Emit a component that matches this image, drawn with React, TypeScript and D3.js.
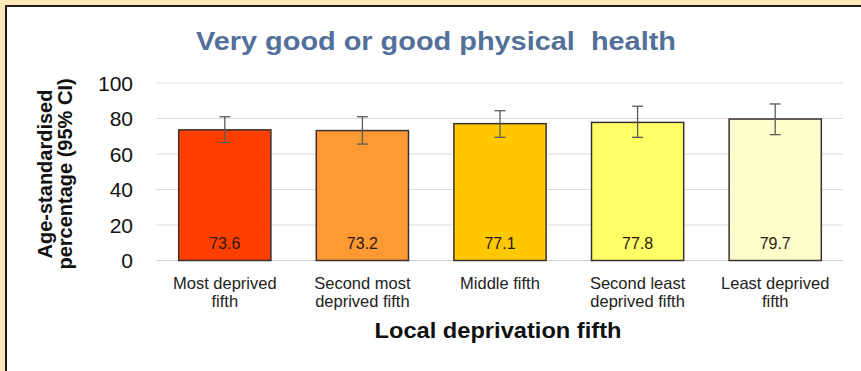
import React from "react";
import * as d3 from "d3";

const categories = [
  ["Most deprived", "fifth"],
  ["Second most", "deprived fifth"],
  ["Middle fifth"],
  ["Second least", "deprived fifth"],
  ["Least deprived", "fifth"],
];
const values = [73.6, 73.2, 77.1, 77.8, 79.7];
const lower = [66.4, 65.6, 69.4, 69.4, 70.9];
const upper = [81.0, 81.0, 84.4, 86.9, 88.2];
const colors = ["#ff3f00", "#ff9933", "#ffc800", "#ffff66", "#ffffcc"];
const yTicks = [0, 20, 40, 60, 80, 100];

const W = 861;
const H = 371;

export default function App() {
  const keys = categories.map((_, i) => String(i));
  const x = d3.scaleBand<string>().domain(keys).range([156, 844]).paddingInner(0.33).paddingOuter(0.165);
  const y = d3.scaleLinear().domain([0, 100]).range([260.5, 83]);
  const font = "'Liberation Sans', Arial, sans-serif";
  return (
    <svg width={W} height={H} style={{ position: "absolute", left: 0, top: 0 }} fontFamily={font}>
      <rect x={0} y={0} width={W} height={H} fill="#fde8b8" />
      <rect x={6} y={6} width={W + 10} height={H + 10} fill="#ffffff" stroke="#1e1e1e" strokeWidth={2} />
      <text x={436} y={50} textAnchor="middle" fontSize={26} fontWeight="bold" fill="#53709a" textLength={480} lengthAdjust="spacingAndGlyphs" style={{ whiteSpace: "pre" }}>
        {"Very good or good physical  health"}
      </text>
      {yTicks.map((t) => (
        <g key={t}>
          <line x1={156} x2={843} y1={y(t)} y2={y(t)} stroke={t === 0 ? "#cfcfcf" : "#dcdcdc"} strokeWidth={1.2} />
          <text x={133} y={y(t)} dy="0.36em" textAnchor="end" fontSize={21} fill="#111">
            {t}
          </text>
        </g>
      ))}
      {values.map((v, i) => {
        const bx = x(String(i))!;
        const bw = x.bandwidth();
        const cx = bx + bw / 2;
        return (
          <g key={i}>
            <rect x={bx} y={y(v)} width={bw} height={y(0) - y(v)} fill={colors[i]} stroke="#3a3030" strokeWidth={1.5} />
            <line x1={cx} x2={cx} y1={y(upper[i])} y2={y(lower[i])} stroke="#5a5a5a" strokeWidth={1.3} />
            <line x1={cx - 5.5} x2={cx + 5.5} y1={y(upper[i])} y2={y(upper[i])} stroke="#5a5a5a" strokeWidth={1.3} />
            <line x1={cx - 5.5} x2={cx + 5.5} y1={y(lower[i])} y2={y(lower[i])} stroke="#5a5a5a" strokeWidth={1.3} />
            <text x={cx} y={249} textAnchor="middle" fontSize={16} fill="#2a1a12">
              {v.toFixed(1)}
            </text>
            {categories[i].map((line, j) => (
              <text key={j} x={cx} y={289 + j * 18} textAnchor="middle" fontSize={16.5} fill="#222">
                {line}
              </text>
            ))}
          </g>
        );
      })}
      <text x={498} y={338} textAnchor="middle" fontSize={22} fontWeight="bold" fill="#111" textLength={247} lengthAdjust="spacingAndGlyphs">
        Local deprivation fifth
      </text>
      <g transform="translate(45,174) rotate(-90)">
        <text x={0} y={0} dy="0.35em" textAnchor="middle" fontSize={20} fontWeight="bold" fill="#111">
          Age-standardised
        </text>
        <text x={0} y={19.5} dy="0.35em" textAnchor="middle" fontSize={20} fontWeight="bold" fill="#111">
          percentage (95% CI)
        </text>
      </g>
    </svg>
  );
}
